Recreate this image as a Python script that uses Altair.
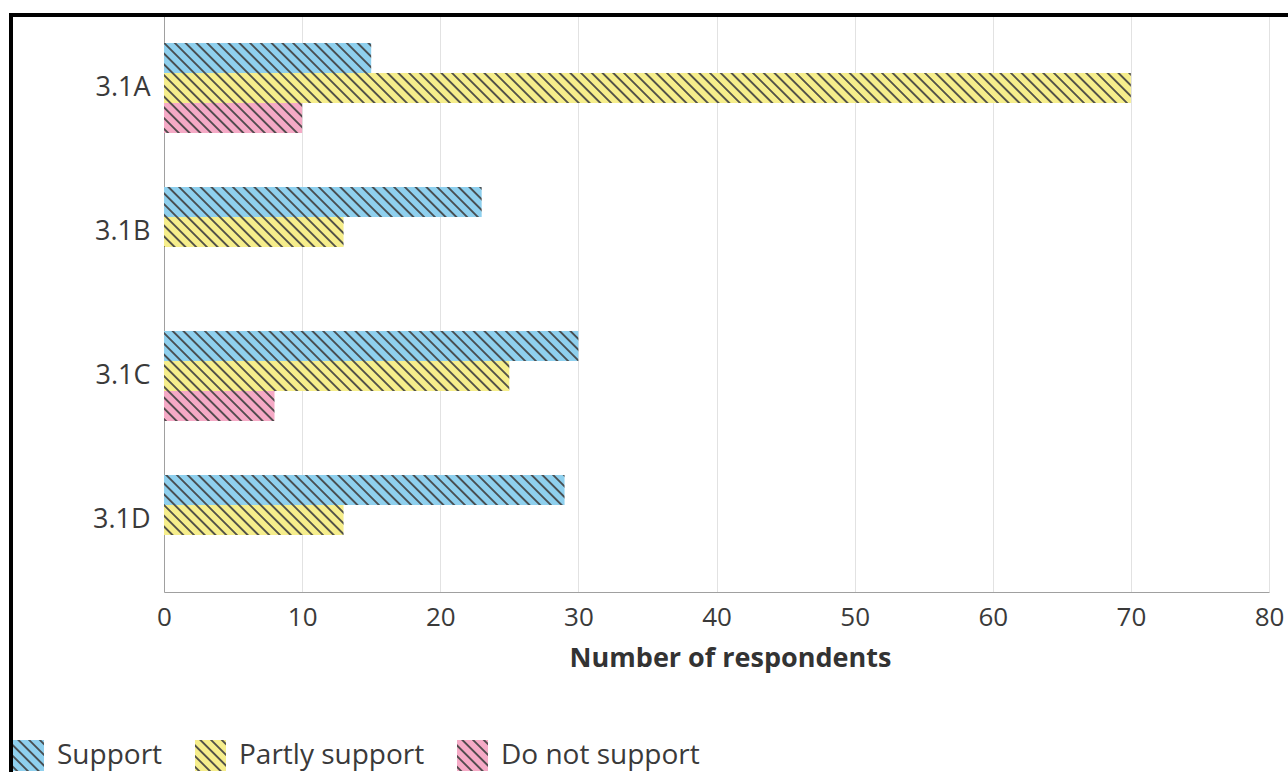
import altair as alt
import pandas as pd
import jinja2

# ---- data ----
questions = ["3.1A", "3.1B", "3.1C", "3.1D"]
series = ["Support", "Partly support", "Do not support"]
support = [15, 23, 30, 29]
partly_support = [70, 13, 25, 13]
do_not_support = [10, None, 8, None]
x_ticks = [0, 10, 20, 30, 40, 50, 60, 70, 80]

rows = []
for i, q in enumerate(questions):
    for s, vals in zip(series, [support, partly_support, do_not_support]):
        if vals[i] is not None:
            rows.append({"question": q, "response": s, "count": vals[i]})
df = pd.DataFrame(rows)

# hatched fills (SVG patterns defined in the page template), with plain colour fallback
base_colors = ["#8fd0ee", "#f6ee8c", "#f5aac6"]
pattern_ids = ["hatch-support", "hatch-partly", "hatch-not"]
fills = [f"url(#{pid}) {c}" for pid, c in zip(pattern_ids, base_colors)]

FONT = "Open Sans"
TXT = "#3a3a3a"

bars = alt.Chart(df).mark_bar().encode(
    y=alt.Y(
        "question:N",
        sort=questions,
        scale=alt.Scale(domain=questions, paddingInner=0.375, paddingOuter=0.1875),
        axis=alt.Axis(
            title=None, ticks=False, labelPadding=14, labelFontSize=27,
            labelColor=TXT, labelFont=FONT, domainColor="#a0a0a0", grid=False,
        ),
    ),
    yOffset=alt.YOffset("response:N", sort=series, scale=alt.Scale(domain=series)),
    x=alt.X(
        "count:Q",
        scale=alt.Scale(domain=[0, 80], nice=False),
        axis=alt.Axis(
            values=x_ticks, title="Number of respondents", ticks=False,
            labelPadding=12, labelFontSize=26, labelColor=TXT, labelFont=FONT,
            titleFont=FONT, titleFontSize=27, titleFontWeight="bold", titleColor="#333333",
            titlePadding=15, titleX=566, titleAlign="center",
            domainColor="#a0a0a0", gridColor="#e2e2e2", labelFlush=False,
        ),
    ),
    color=alt.Color(
        "response:N",
        scale=alt.Scale(domain=series, range=fills),
        legend=alt.Legend(
            title=None, orient="none", legendX=-151, legendY=724,
            direction="horizontal", symbolType="square", symbolSize=960,
            symbolStrokeWidth=0, labelFontSize=28, labelFont=FONT, labelColor=TXT,
            labelOffset=13, columnPadding=32, labelLimit=400,
        ),
    ),
)

frame_df = pd.DataFrame({"k": [0]})
frame_left = alt.Chart(frame_df).mark_rule(color="black", strokeWidth=4).encode(
    x=alt.value(-153), y=alt.value(-3), y2=alt.value(800)
)
frame_top = alt.Chart(frame_df).mark_rule(color="black", strokeWidth=4).encode(
    y=alt.value(-1), x=alt.value(-155), x2=alt.value(1200)
)

chart = alt.layer(bars, frame_left, frame_top).properties(
    width=1105,
    height=576,
    padding={"left": 164, "top": 16, "right": 19, "bottom": 180},
    autosize=alt.AutoSizeParams(type="none"),
    background="white",
).configure_view(stroke=None)

# page template: the standard altair page plus SVG hatch pattern definitions
pattern_svg = "".join(
    f'<pattern id="{pid}" patternUnits="userSpaceOnUse" width="7.6" height="7.6" '
    f'patternTransform="rotate(-45)">'
    f'<rect width="7.6" height="7.6" fill="{c}"/>'
    f'<line x1="3.8" y1="0" x2="3.8" y2="7.6" stroke="#404040" stroke-width="1.7"/>'
    f'</pattern>'
    for pid, c in zip(pattern_ids, base_colors)
)

TEMPLATE = jinja2.Template(
    """<!DOCTYPE html>
<html>
<head>
  <style>
    body { margin: 0; }
    #{{ output_div }}.vega-embed { width: 100%; display: flex; }
    #{{ output_div }}.vega-embed details,
    #{{ output_div }}.vega-embed details summary { position: relative; }
  </style>
  <script type="text/javascript" src="{{ base_url }}/vega@{{ vega_version }}"></script>
  <script type="text/javascript" src="{{ base_url }}/vega-lite@{{ vegalite_version }}"></script>
  <script type="text/javascript" src="{{ base_url }}/vega-embed@{{ vegaembed_version }}"></script>
</head>
<body>
  <svg width="0" height="0" style="position:absolute;left:0;top:0"><defs>"""
    + pattern_svg
    + """</defs></svg>
  <div id="{{ output_div }}"></div>
  <script>
    (function(vegaEmbed) {
      var spec = {{ spec }};
      var embedOpt = {{ embed_options }};
      function showError(el, error){
          el.innerHTML = ('<div style="color:red;"><p>JavaScript Error: ' + error.message + '</p></div>');
          throw error;
      }
      const el = document.getElementById('{{ output_div }}');
      vegaEmbed("#{{ output_div }}", spec, embedOpt).catch(error => showError(el, error));
    })(vegaEmbed);
  </script>
</body>
</html>"""
)

chart.save("out.html", embed_options={"renderer": "svg", "actions": False}, template=TEMPLATE)
